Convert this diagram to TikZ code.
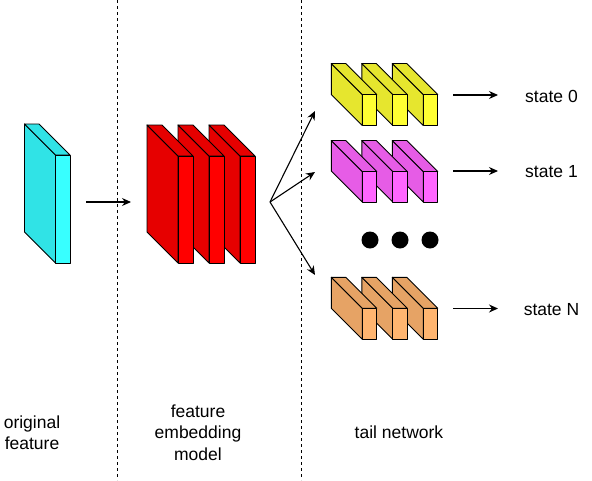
\documentclass[tikz,border=0pt]{standalone}
\usepackage{fontspec}
\setmainfont{Liberation Sans}
\usetikzlibrary{arrows.meta,positioning}

\definecolor{cyanfront}{HTML}{38FFFF}
\definecolor{cyanside}{HTML}{30E3E6}
\definecolor{redfront}{HTML}{FF0000}
\definecolor{redside}{HTML}{E60000}
\definecolor{yellowfront}{HTML}{FFFF33}
\definecolor{yellowside}{HTML}{E6E62E}
\definecolor{magentafront}{HTML}{FF66FF}
\definecolor{magentaside}{HTML}{E65CE6}
\definecolor{orangefront}{HTML}{FFB570}
\definecolor{orangeside}{HTML}{E6A365}

% one slab: front x, front y, width, height, colour
\newcommand{\slab}[5]{%
  \filldraw[fill=#5side, slabline] (#1,#2) -- ({#1-31},{#2-31}) -- ({#1-31},{#2+#4-31}) -- (#1,{#2+#4}) -- cycle;
  \filldraw[fill=#5side, slabline] (#1,#2) -- ({#1-31},{#2-31}) -- ({#1+#3-31},{#2-31}) -- ({#1+#3},#2) -- cycle;
  \filldraw[fill=#5front, slabline] (#1,#2) rectangle ({#1+#3},{#2+#4});
}

\begin{document}
\begin{tikzpicture}[
    x=1pt, y=-1pt,
    slabline/.style={draw=black, line width=0.9pt, line join=round},
    divider/.style={draw=black, line width=0.7pt, dash pattern=on 3pt off 3pt},
    arrow/.style={-{Stealth[length=9pt, width=8pt]}, line width=1.1pt},
    label/.style={align=center, inner sep=0pt, font=\fontsize{17.5}{21.5}\selectfont},
    dot/.style={circle, fill=black, minimum size=17pt, inner sep=0pt}
]
\useasboundingbox (0,0) rectangle (592,480);

% Dividers
\draw[divider] (117,0) -- (117,480);
\draw[divider] (301,0) -- (301,480);

% Original feature
\slab{55.5}{155}{14.5}{108}{cyan}
\coordinate (orig_out) at (86,202);
\coordinate (emb_in) at (131,202);
\draw[arrow] (orig_out) -- (emb_in);

% Feature embedding model
\foreach \i in {2,1,0} {
  \slab{178+31*\i}{156}{15}{107}{red}
}
\coordinate (emb_out) at (270,202);

% Tail network
\foreach \i in {2,1,0} {
  \slab{362.3+30.5*\i}{94.5}{14.5}{31}{yellow}
  \slab{362.3+30.5*\i}{171.5}{14.5}{30.5}{magenta}
  \slab{362.3+30.5*\i}{308.3}{14.5}{31}{orange}
}
\coordinate (tail0_in) at (315,111);
\coordinate (tail1_in) at (315,172);
\coordinate (tailN_in) at (315,275);
\draw[arrow] (emb_out) -- (tail0_in);
\draw[arrow] (emb_out) -- (tail1_in);
\draw[arrow] (emb_out) -- (tailN_in);

\node[dot] (dot1) at (370,240) {};
\node[dot] (dot2) at (400,240) {};
\node[dot] (dot3) at (430,240) {};

% States
\node[label] (state0) at (551.5,96) {state 0};
\node[label] (state1) at (551.5,172) {state 1};
\node[label] (stateN) at (551.5,309.5) {state N};
\coordinate (tail0_out) at (453,95);
\coordinate (tail1_out) at (453,171);
\coordinate (tailN_out) at (453,308.5);
\draw[arrow] (tail0_out) -- ++(45,0);
\draw[arrow] (tail1_out) -- ++(45,0);
\draw[arrow] (tailN_out) -- ++(45,0);

% Labels
\node[label] (orig_lbl) at (32,432.5) {original\\feature};
\node[label] (emb_lbl) at (198,432.5) {feature\\embedding\\model};
\node[label] (tail_lbl) at (399,432) {tail network};

\end{tikzpicture}
\end{document}
